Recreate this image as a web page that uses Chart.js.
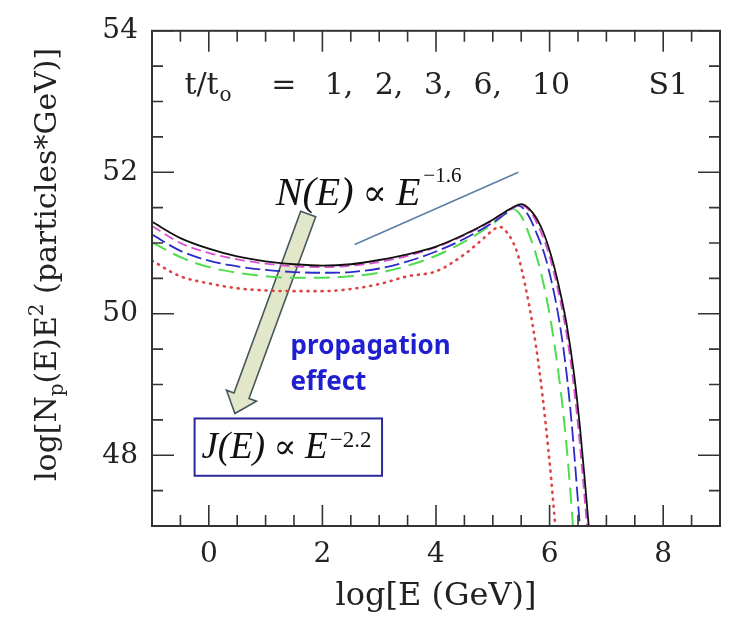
<!DOCTYPE html>
<html><head><meta charset="utf-8">
<script src="https://cdn.jsdelivr.net/npm/chart.js@4/dist/chart.umd.min.js"></script>
<style>html,body{margin:0;padding:0;background:#fff}#wrap{width:730px;height:620px}</style>
</head><body><div id="wrap"><canvas id="c" width="730" height="620"></canvas></div>
<script>
// ---- data ----
const seriesLabels = ['t/to = 10', 't/to = 6', 't/to = 3', 't/to = 2', 't/to = 1'];
const xT10 = [-1,-0.5,0,0.5,1,1.5,2,2.5,3,3.5,4,4.5,5,5.3,5.5,5.7,5.88,6.02,6.16,6.3,6.43,6.54,6.63,6.71,6.78];
const yT10 = [51.30,51.07,50.92,50.81,50.74,50.70,50.68,50.70,50.76,50.84,50.95,51.12,51.33,51.48,51.55,51.43,51.17,50.84,50.40,49.85,49.15,48.35,47.55,46.80,46.10];
const xT6 = [-1,-0.5,0,0.5,1,1.5,2,2.5,3,3.5,4,4.5,5,5.3,5.48,5.68,5.85,5.99,6.13,6.27,6.40,6.51,6.60,6.68,6.75];
const yT6 = [51.24,51.00,50.86,50.77,50.71,50.67,50.66,50.68,50.73,50.82,50.94,51.11,51.32,51.47,51.54,51.42,51.15,50.84,50.40,49.85,49.15,48.35,47.55,46.80,46.10];
const xT3 = [-1,-0.5,0,0.5,1,1.5,2,2.5,3,3.5,4,4.5,5,5.25,5.45,5.62,5.78,5.91,6.05,6.18,6.30,6.40,6.48,6.55,6.61];
const yT3 = [51.12,50.89,50.75,50.67,50.62,50.59,50.58,50.59,50.64,50.74,50.88,51.06,51.29,51.43,51.53,51.40,51.12,50.84,50.40,49.85,49.15,48.35,47.55,46.80,46.10];
const xT2 = [-1,-0.5,0,0.5,1,1.5,2,2.5,3,3.5,4,4.5,5,5.2,5.35,5.5,5.64,5.76,5.90,6.03,6.15,6.26,6.35,6.43,6.50];
const yT2 = [51.01,50.80,50.66,50.58,50.53,50.51,50.51,50.53,50.58,50.68,50.82,51.02,51.27,51.40,51.48,51.38,51.12,50.84,50.40,49.85,49.20,48.45,47.65,46.80,46.10];
const xT1 = [-1,-0.5,0,0.5,1,1.5,2,2.5,3,3.5,4,4.5,4.8,5.0,5.12,5.25,5.35,5.44,5.57,5.70,5.82,5.93,6.03,6.12,6.19];
const yT1 = [50.75,50.53,50.43,50.36,50.33,50.32,50.32,50.35,50.42,50.53,50.60,50.84,51.04,51.18,51.23,51.15,51.02,50.84,50.40,49.85,49.20,48.45,47.65,46.80,46.10];
const xTickLabels = [0, 2, 4, 6, 8];
const yTickLabels = [48, 50, 52, 54];
const xRange = [-1, 9];
const yRange = [47, 54];
const slopeLineX = [2.57, 5.45];
const slopeLineY = [50.98, 52.0];

// ---- styling ----
const serif = '"DejaVu Serif", serif';
const times = '"Liberation Serif", "DejaVu Serif", serif';
const styles = [
  {color:'#111111', dash:[], width:1.8},
  {color:'#d84fd2', dash:[10,5], width:1.8},
  {color:'#2b2bc8', dash:[15,5], width:1.8},
  {color:'#4fdc4f', dash:[16,8], width:2},
  {color:'#dd4444', dash:[1,6], width:2.6}
];
const xs = [xT10, xT6, xT3, xT2, xT1];
const ys = [yT10, yT6, yT3, yT2, yT1];
const datasets = xs.map((xa, i) => ({
  label: seriesLabels[i],
  data: xa.map((xv, k) => ({x: xv, y: ys[i][k]})),
  borderColor: styles[i].color,
  borderDash: styles[i].dash,
  borderWidth: styles[i].width,
  borderCapStyle: i === 4 ? 'round' : 'butt',
  pointRadius: 0,
  fill: false,
  cubicInterpolationMode: 'monotone'
}));

function drawParts(ctx, parts, x, y) {
  let cx = x;
  for (const p of parts) {
    ctx.font = p.font;
    ctx.fillText(p.t, cx + (p.dx || 0), y + (p.dy || 0));
    cx += ctx.measureText(p.t).width + (p.dx || 0);
  }
  return cx;
}

const arrowPlugin = {
  id: 'arrow',
  beforeDatasetsDraw(chart) {
    const {ctx, scales: {x, y}} = chart;
    const tx = x.getPixelForValue(1.75), ty = y.getPixelForValue(51.41);
    const hx = x.getPixelForValue(0.46), hy = y.getPixelForValue(48.59);
    let dx = hx - tx, dy = hy - ty; const L = Math.hypot(dx, dy); dx /= L; dy /= L;
    const px = -dy, py = dx;
    const sw = 8, hw = 16, hl = 19;
    const bx = hx - dx * hl, by = hy - dy * hl;
    ctx.save();
    ctx.beginPath();
    ctx.moveTo(tx + px * sw, ty + py * sw);
    ctx.lineTo(bx + px * sw, by + py * sw);
    ctx.lineTo(bx + px * hw, by + py * hw);
    ctx.lineTo(hx, hy);
    ctx.lineTo(bx - px * hw, by - py * hw);
    ctx.lineTo(bx - px * sw, by - py * sw);
    ctx.lineTo(tx - px * sw, ty - py * sw);
    ctx.closePath();
    ctx.fillStyle = '#e3e7c9';
    ctx.fill();
    ctx.strokeStyle = '#45565c';
    ctx.lineWidth = 1.6;
    ctx.stroke();
    ctx.restore();
  }
};

const framePlugin = {
  id: 'frame',
  afterDatasetsDraw(chart) {
    const {ctx, chartArea: a, scales: {x, y}} = chart;
    ctx.save();
    ctx.strokeStyle = '#333';
    ctx.lineWidth = 1.6;
    ctx.beginPath();
    for (let v = xRange[0]; v <= xRange[1] + 1e-9; v += 0.5) {
      const p = x.getPixelForValue(v);
      const L = Math.abs(v / 2 - Math.round(v / 2)) < 1e-9 ? 21 : 11;
      ctx.moveTo(p, a.bottom); ctx.lineTo(p, a.bottom - L);
      ctx.moveTo(p, a.top); ctx.lineTo(p, a.top + L);
    }
    for (let v = yRange[0]; v <= yRange[1] + 1e-9; v += 0.5) {
      const p = y.getPixelForValue(v);
      const L = Math.abs(v / 2 - Math.round(v / 2)) < 1e-9 ? 22 : 11;
      ctx.moveTo(a.left, p); ctx.lineTo(a.left + L, p);
      ctx.moveTo(a.right, p); ctx.lineTo(a.right - L, p);
    }
    ctx.stroke();
    ctx.lineWidth = 2;
    ctx.strokeRect(a.left, a.top, a.right - a.left, a.bottom - a.top);
    ctx.restore();
  },
  afterDraw(chart) {
    const {ctx, chartArea: a, scales: {x, y}} = chart;
    ctx.save();
    // slope reference line
    ctx.strokeStyle = '#5a7ea6'; ctx.lineWidth = 1.5;
    ctx.beginPath();
    ctx.moveTo(x.getPixelForValue(slopeLineX[0]), y.getPixelForValue(slopeLineY[0]));
    ctx.lineTo(x.getPixelForValue(slopeLineX[1]), y.getPixelForValue(slopeLineY[1]));
    ctx.stroke();

    ctx.textBaseline = 'alphabetic';
    ctx.textAlign = 'left';
    ctx.fillStyle = '#222';
    // top label
    const tb = y.getPixelForValue(53.10);
    let ex = drawParts(ctx, [{t: 't/t', font: '30px ' + serif}], x.getPixelForValue(-0.43), tb);
    drawParts(ctx, [{t: 'o', font: '20px ' + serif}], ex + 1, tb + 7);
    const toks = [['=', 1.10], ['1,', 2.04], ['2,', 2.92], ['3,', 3.79], ['6,', 4.66], ['10', 5.69], ['S1', 7.74]];
    ctx.font = '30px ' + serif;
    for (const [t, v] of toks) ctx.fillText(t, x.getPixelForValue(v), tb);

    // N(E) ∝ E^-1.6
    ctx.fillStyle = '#111';
    const nb = y.getPixelForValue(51.54);
    ex = drawParts(ctx, [
      {t: 'N(E)', font: 'italic 40px ' + times},
      {t: ' \u221D ', font: '36px ' + times},
      {t: 'E', font: 'italic 40px ' + times}
    ], x.getPixelForValue(1.18), nb);
    drawParts(ctx, [{t: '\u22121.6', font: '21px ' + times}], ex + 3, nb - 23);

    // propagation effect
    ctx.fillStyle = '#1f1fcf';
    ctx.font = 'bold 26px "Noto Sans", sans-serif';
    ctx.fillText('propagation', x.getPixelForValue(1.44), y.getPixelForValue(49.43));
    ctx.fillText('effect', x.getPixelForValue(1.44), y.getPixelForValue(48.92));

    // J(E) box
    const bl = x.getPixelForValue(-0.25), br = x.getPixelForValue(3.05);
    const bt = y.getPixelForValue(48.52), bb = y.getPixelForValue(47.71);
    ctx.fillStyle = '#fff';
    ctx.fillRect(bl, bt, br - bl, bb - bt);
    ctx.strokeStyle = '#2a2a9a'; ctx.lineWidth = 2;
    ctx.strokeRect(bl, bt, br - bl, bb - bt);
    ctx.fillStyle = '#111';
    const jb = y.getPixelForValue(47.96);
    ex = drawParts(ctx, [
      {t: 'J(E)', font: 'italic 37px ' + times},
      {t: ' \u221D ', font: '34px ' + times},
      {t: 'E', font: 'italic 37px ' + times}
    ], x.getPixelForValue(-0.13), jb);
    drawParts(ctx, [{t: '\u22122.2', font: '23px ' + times}], ex + 2, jb - 11);

    // y-axis title with subscript/superscript
    ctx.fillStyle = '#222';
    const cxT = a.left - 106, cyT = (a.top + a.bottom) / 2 - 14;
    ctx.translate(cxT, cyT);
    ctx.rotate(-Math.PI / 2);
    const parts = [
      {t: 'log[N', font: '30px ' + serif},
      {t: 'p', font: '20px ' + serif, dy: 7},
      {t: '(E)E', font: '30px ' + serif},
      {t: '2', font: '20px ' + serif, dy: -13},
      {t: ' (particles*GeV)]', font: '30px ' + serif}
    ];
    let w = 0;
    for (const p of parts) { ctx.font = p.font; w += ctx.measureText(p.t).width; }
    drawParts(ctx, parts, -w / 2, 10);
    ctx.restore();
  }
};

new Chart(document.getElementById('c'), {
  type: 'line',
  data: {datasets},
  options: {
    responsive: false,
    devicePixelRatio: 1,
    animation: false,
    layout: {padding: {top: 23, right: 10, left: 0, bottom: 0}},
    plugins: {legend: {display: false}, tooltip: {enabled: false}},
    scales: {
      x: {
        type: 'linear', min: xRange[0], max: xRange[1],
        afterBuildTicks: s => { s.ticks = xTickLabels.map(v => ({value: v})); },
        afterFit: s => { s.height = 94; },
        grid: {display: false, drawTicks: false},
        border: {display: false},
        ticks: {font: {family: serif, size: 28}, color: '#222', padding: 12, maxRotation: 0},
        title: {display: true, text: 'log[E (GeV)]', font: {family: serif, size: 32}, color: '#222', padding: {top: 0, bottom: 4}}
      },
      y: {
        type: 'linear', min: yRange[0], max: yRange[1],
        afterBuildTicks: s => { s.ticks = yTickLabels.map(v => ({value: v})); },
        afterFit: s => { s.width = 152; },
        grid: {display: false, drawTicks: false},
        border: {display: false},
        ticks: {font: {family: serif, size: 28}, color: '#222', padding: 14}
      }
    }
  },
  plugins: [arrowPlugin, framePlugin]
});
</script></body></html>
